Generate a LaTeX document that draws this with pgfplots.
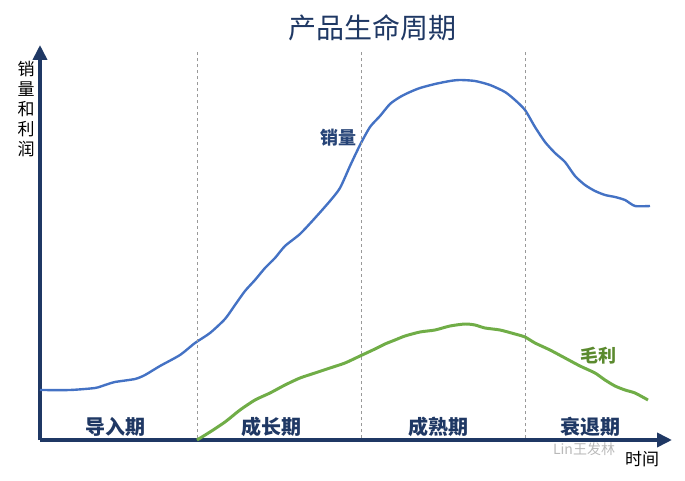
\documentclass[border=0pt]{standalone}
\usepackage{pgfplots}
\pgfplotsset{compat=1.18}
\usetikzlibrary{arrows.meta}
\usepackage{fontspec}
\setmainfont{Liberation Sans}
\newfontfamily\cjk{Noto Sans CJK SC}
\definecolor{navy}{HTML}{1F3864}
\definecolor{sblue}{HTML}{4472C4}
\definecolor{sgreen}{HTML}{70AD47}
\definecolor{tgreen}{HTML}{5B8A2E}
\begin{document}
\begin{tikzpicture}
\begin{axis}[
  scale only axis, width=632bp, height=395bp,
  xmin=40, xmax=672, ymin=41, ymax=436,
  axis lines=left, ticks=none, clip=false,
  axis line style={navy, line width=3.6bp, -{Triangle[length=15bp,width=14bp]}},
]
\addplot[sblue, line width=2.4pt, smooth, tension=0.4] coordinates {
(40,91) (70,91) (95,93) (105,96) (115,99) (135,102) (145,106) (160,115) (180,126)
(195,138) (210,148) (225,162) (235,176) (245,190) (255,201) (265,213) (275,223)
(285,235) (300,247) (315,263) (330,280) (340,293) (350,315) (360,336) (370,354)
(380,365) (390,377) (400,384) (410,389) (420,393) (435,397) (450,400) (460,401)
(475,400) (490,396) (505,389) (515,381) (525,371) (535,354) (545,339) (555,328)
(565,319) (575,305) (585,296) (595,290) (605,286) (615,284) (625,281) (635,275) (650,275)
};
\addplot[sgreen, line width=3pt, smooth, tension=0.4] coordinates {
(197,41) (210,49) (225,59) (240,71) (255,81) (270,88) (285,96) (300,103) (315,108)
(330,113) (345,118) (360,125) (375,132) (385,137) (395,141) (405,145) (420,149)
(435,151) (450,155) (465,157) (475,156) (485,153) (500,151) (515,147) (525,144)
(535,138) (550,131) (565,123) (580,115) (595,108) (605,101) (615,95) (625,91)
(635,88) (648,81)
};
\foreach \xx in {197,361,525}{
  \edef\tmp{\noexpand\draw[gray!80, dashed, line width=0.6pt] (axis cs:\xx,43) -- (axis cs:\xx,431);}\tmp
}
\node[navy, font=\cjk\fontsize{20bp}{22bp}\selectfont\bfseries] at (axis cs:115,54) {导入期};
\node[navy, font=\cjk\fontsize{20bp}{22bp}\selectfont\bfseries] at (axis cs:271,54) {成长期};
\node[navy, font=\cjk\fontsize{20bp}{22bp}\selectfont\bfseries] at (axis cs:438,54) {成熟期};
\node[navy, font=\cjk\fontsize{20bp}{22bp}\selectfont\bfseries] at (axis cs:590,54) {衰退期};
\node[navy!80!sblue, font=\cjk\fontsize{18bp}{22bp}\selectfont\bfseries] at (axis cs:338,343) {销量};
\node[tgreen, font=\cjk\fontsize{18bp}{22bp}\selectfont\bfseries] at (axis cs:598,125) {毛利};
\node[navy, font=\cjk\fontsize{28bp}{30bp}\selectfont] at (axis cs:372,453) {产品生命周期};
\node[black, font=\cjk\fontsize{17bp}{20bp}\selectfont, align=center] at (axis cs:26,372) {销\\量\\和\\利\\润};
\node[gray!55, font=\cjk\fontsize{14bp}{18bp}\selectfont] at (axis cs:584,32) {Lin王发林};
\node[black, font=\cjk\fontsize{17bp}{20bp}\selectfont] at (axis cs:642,22) {时间};
\end{axis}
\path[use as bounding box] (-40bp,-41bp) rectangle (645bp,440bp);
\end{tikzpicture}
\end{document}
